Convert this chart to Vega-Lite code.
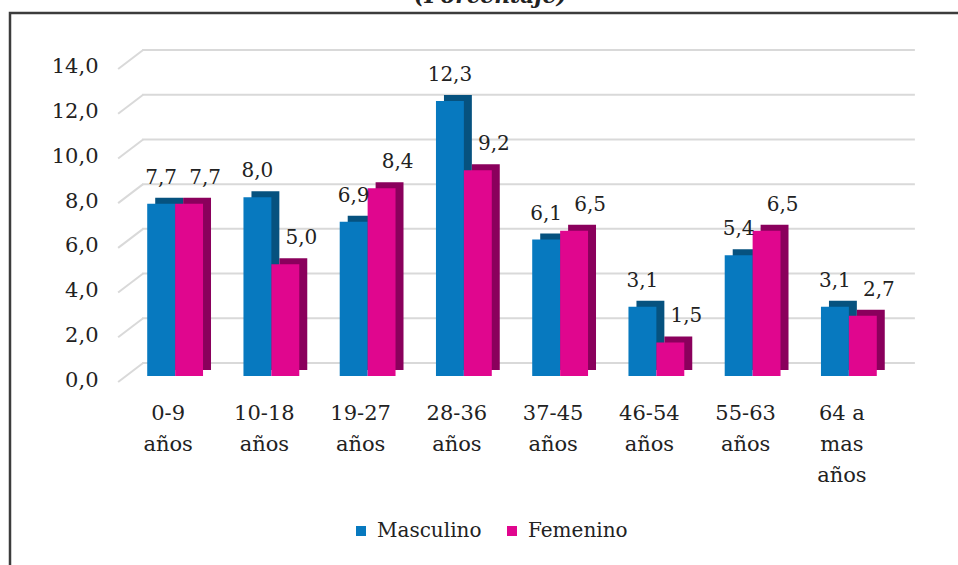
{
  "$schema": "https://vega.github.io/schema/vega-lite/v6.json",
  "autosize": {"type": "none"},
  "padding": {"left": 10, "top": 13, "right": -5, "bottom": -5},
  "width": 953,
  "height": 557,
  "title": {
    "text": "(Porcentaje)",
    "font": "DejaVu Serif",
    "fontSize": 22,
    "fontStyle": "italic",
    "fontWeight": "bold",
    "color": "#222222",
    "anchor": "middle",
    "frame": "group",
    "offset": 0,
    "baseline": "alphabetic",
    "dx": 4,
    "dy": 12
  },
  "config": {
    "locale": {"number": {"decimal": ",", "thousands": ".", "grouping": [3], "currency": ["", " €"]}},
    "view": {"stroke": "#3c3c3c", "strokeWidth": 2.5},
    "font": "DejaVu Serif",
    "axisX": {"orient": "bottom", "offset": -168, "domain": false, "ticks": false, "grid": false, "labelPadding": 0, "labelFontSize": 21, "labelFont": "DejaVu Serif", "labelColor": "#222222", "labelLineHeight": 31, "labelBaseline": "top", "labelAngle": 0, "labelOffset": -7},
    "axisY": {"orient": "left", "offset": -88, "domain": false, "ticks": false, "grid": false, "labelPadding": 0, "labelFontSize": 21, "labelFont": "DejaVu Serif", "labelColor": "#222222", "labelOffset": 4}
  },
  "resolve": {"scale": {"xOffset": "independent"}},
  "datasets": {
    "bars": [
      {"grupo": "0-9 años", "sexo": "Masculino", "valor": 7.7},
      {"grupo": "0-9 años", "sexo": "Femenino", "valor": 7.7},
      {"grupo": "10-18 años", "sexo": "Masculino", "valor": 8.0},
      {"grupo": "10-18 años", "sexo": "Femenino", "valor": 5.0},
      {"grupo": "19-27 años", "sexo": "Masculino", "valor": 6.9},
      {"grupo": "19-27 años", "sexo": "Femenino", "valor": 8.4},
      {"grupo": "28-36 años", "sexo": "Masculino", "valor": 12.3},
      {"grupo": "28-36 años", "sexo": "Femenino", "valor": 9.2},
      {"grupo": "37-45 años", "sexo": "Masculino", "valor": 6.1},
      {"grupo": "37-45 años", "sexo": "Femenino", "valor": 6.5},
      {"grupo": "46-54 años", "sexo": "Masculino", "valor": 3.1},
      {"grupo": "46-54 años", "sexo": "Femenino", "valor": 1.5},
      {"grupo": "55-63 años", "sexo": "Masculino", "valor": 5.4},
      {"grupo": "55-63 años", "sexo": "Femenino", "valor": 6.5},
      {"grupo": "64 a mas años", "sexo": "Masculino", "valor": 3.1},
      {"grupo": "64 a mas años", "sexo": "Femenino", "valor": 2.7}
    ],
    "grid": [
      {"v": 0, "desde": "0-9 años", "hasta": "64 a mas años"},
      {"v": 2, "desde": "0-9 años", "hasta": "64 a mas años"},
      {"v": 4, "desde": "0-9 años", "hasta": "64 a mas años"},
      {"v": 6, "desde": "0-9 años", "hasta": "64 a mas años"},
      {"v": 8, "desde": "0-9 años", "hasta": "64 a mas años"},
      {"v": 10, "desde": "0-9 años", "hasta": "64 a mas años"},
      {"v": 12, "desde": "0-9 años", "hasta": "64 a mas años"},
      {"v": 14, "desde": "0-9 años", "hasta": "64 a mas años"}
    ]
  },
  "layer": [
    {
      "data": {"name": "grid"},
      "mark": {"type": "rule", "color": "#d9d9d9", "strokeWidth": 2, "xOffset": -33, "x2Offset": 66, "yOffset": -13},
      "encoding": {
        "x": {"field": "desde", "type": "nominal",
              "axis": {"title": null, "labelExpr": "datum.value == '64 a mas años' ? ['64 a', 'mas', 'años'] : split(datum.value, ' ')"},
              "scale": {"type": "band", "domain": ["0-9 años", "10-18 años", "19-27 años", "28-36 años", "37-45 años", "46-54 años", "55-63 años", "64 a mas años"], "range": [117, 887], "paddingInner": 0.42, "paddingOuter": 0.21}},
        "x2": {"field": "hasta"},
        "y": {"field": "v", "type": "quantitative",
              "axis": {"title": null, "values": [0, 2, 4, 6, 8, 10, 12, 14], "format": ".1f"},
              "scale": {"domain": [-8.677, 16.236], "zero": false, "nice": false}}
      }
    },
    {
      "data": {"name": "grid"},
      "mark": {"type": "rule", "color": "#d9d9d9", "strokeWidth": 2, "xOffset": -57, "x2Offset": -32, "yOffset": 6, "y2Offset": -13},
      "encoding": {
        "x": {"field": "desde", "type": "nominal",
              "axis": {"title": null, "labelExpr": "datum.value == '64 a mas años' ? ['64 a', 'mas', 'años'] : split(datum.value, ' ')"}},
        "x2": {"field": "desde"},
        "y": {"field": "v", "type": "quantitative",
              "axis": {"title": null, "values": [0, 2, 4, 6, 8, 10, 12, 14], "format": ".1f"}},
        "y2": {"field": "v"}
      }
    },
    {
      "data": {"name": "bars"},
      "mark": {"type": "bar", "yOffset": -6},
      "encoding": {
        "x": {"field": "grupo", "type": "nominal",
              "axis": {"title": null, "labelExpr": "datum.value == '64 a mas años' ? ['64 a', 'mas', 'años'] : split(datum.value, ' ')"}},
        "xOffset": {"field": "sexo", "type": "nominal", "scale": {"domain": ["Masculino", "Femenino"], "range": [8, 63.8], "paddingInner": 0, "paddingOuter": 0}},
        "y": {"field": "valor", "type": "quantitative",
              "axis": {"title": null, "values": [0, 2, 4, 6, 8, 10, 12, 14], "format": ".1f"}},
        "color": {"condition": {"test": "datum.sexo == 'Masculino'", "value": "#06527f"}, "value": "#8a005c"}
      }
    },
    {
      "data": {"name": "bars"},
      "mark": {"type": "bar"},
      "encoding": {
        "x": {"field": "grupo", "type": "nominal",
              "axis": {"title": null, "labelExpr": "datum.value == '64 a mas años' ? ['64 a', 'mas', 'años'] : split(datum.value, ' ')"}},
        "xOffset": {"field": "sexo", "type": "nominal", "scale": {"domain": ["Masculino", "Femenino"]}},
        "y": {"field": "valor", "type": "quantitative",
              "axis": {"title": null, "values": [0, 2, 4, 6, 8, 10, 12, 14], "format": ".1f"}},
        "color": {"field": "sexo", "type": "nominal",
                  "scale": {"domain": ["Masculino", "Femenino"], "range": ["#0779bf", "#e0068e"]},
                  "legend": {"orient": "none", "legendX": 341, "legendY": 508, "direction": "horizontal", "title": null, "symbolType": "square", "symbolSize": 100, "symbolStrokeWidth": 0, "labelFontSize": 20, "labelFont": "DejaVu Serif", "labelColor": "#222222", "columnPadding": 20, "labelOffset": 6}}
      }
    },
    {
      "data": {"name": "bars"},
      "transform": [{"filter": "datum.sexo == 'Masculino'"}],
      "mark": {"type": "text", "dy": -26, "baseline": "middle", "fontSize": 20, "font": "DejaVu Serif", "color": "#222222"},
      "encoding": {
        "x": {"field": "grupo", "type": "nominal",
              "axis": {"title": null, "labelExpr": "datum.value == '64 a mas años' ? ['64 a', 'mas', 'años'] : split(datum.value, ' ')"}},
        "xOffset": {"field": "sexo", "type": "nominal", "scale": {"domain": ["Masculino", "Femenino"]}},
        "y": {"field": "valor", "type": "quantitative",
              "axis": {"title": null, "values": [0, 2, 4, 6, 8, 10, 12, 14], "format": ".1f"}},
        "text": {"field": "valor", "type": "quantitative", "format": ".1f"}
      }
    },
    {
      "data": {"name": "bars"},
      "transform": [{"filter": "datum.sexo == 'Femenino'"}],
      "mark": {"type": "text", "dy": -26, "dx": 16, "baseline": "middle", "fontSize": 20, "font": "DejaVu Serif", "color": "#222222"},
      "encoding": {
        "x": {"field": "grupo", "type": "nominal",
              "axis": {"title": null, "labelExpr": "datum.value == '64 a mas años' ? ['64 a', 'mas', 'años'] : split(datum.value, ' ')"}},
        "xOffset": {"field": "sexo", "type": "nominal", "scale": {"domain": ["Masculino", "Femenino"]}},
        "y": {"field": "valor", "type": "quantitative",
              "axis": {"title": null, "values": [0, 2, 4, 6, 8, 10, 12, 14], "format": ".1f"}},
        "text": {"field": "valor", "type": "quantitative", "format": ".1f"}
      }
    }
  ]
}
